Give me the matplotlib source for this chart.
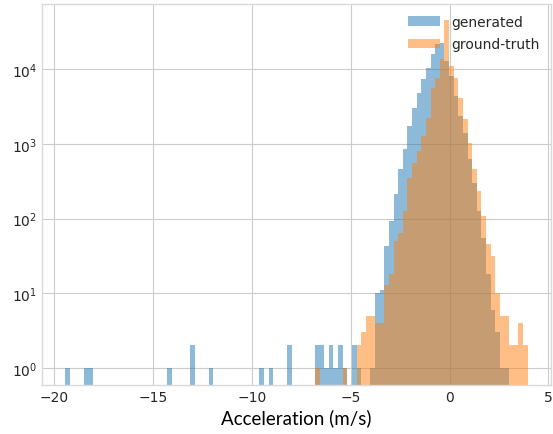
import numpy as np
import matplotlib
matplotlib.use("Agg")
import matplotlib.pyplot as plt

# data range of both samples, 100 shared bins
acc_min, acc_max = -19.46, 3.95
n_bins = 100

# non-empty bins: bin index -> count
gen_bins = [0, 4, 5, 22, 27, 31, 42, 44, 48, 54, 55, 56, 57, 58, 59, 60, 62, 63,
            66, 67, 68, 69, 70, 71, 72, 73, 74, 75, 76, 77, 78, 79, 80, 81,
            82, 83, 84, 85, 86, 87, 88, 89, 90, 91, 92, 93, 94, 95]
gen_counts = [1, 1, 1, 1, 2, 1, 1, 1, 2, 2, 2, 1, 2, 1, 2, 1, 2, 1,
              1, 10, 11, 43, 92, 210, 455, 850, 1740, 3070, 4880, 7350, 10500, 15800, 21700, 22500,
              12900, 8100, 4380, 2360, 1410, 620, 300, 125, 55, 18, 6, 3, 1, 1]

gt_bins = [54, 60, 63, 64, 65, 66, 67, 68, 69, 70, 71, 72, 73, 74, 75, 76, 77, 78,
           79, 80, 81, 82, 83, 84, 85, 86, 87, 88, 89, 90, 91, 92, 93, 94, 95,
           96, 97, 98, 99]
gt_counts = [1, 1, 2, 3, 5, 5, 4, 4, 13, 18, 50, 64, 125, 350, 560, 800, 1280, 2230,
             5650, 7750, 13600, 46000, 11100, 7750, 4170, 2130, 1040, 457, 233, 107, 45, 31, 10, 5, 5,
             2, 2, 4, 2]

edges = np.linspace(acc_min, acc_max, n_bins + 1)
centers = (edges[:-1] + edges[1:]) / 2

gen = np.zeros(n_bins)
gen[gen_bins] = gen_counts
gt = np.zeros(n_bins)
gt[gt_bins] = gt_counts

plt.style.use("seaborn-v0_8-whitegrid")
plt.rcParams["font.family"] = ["DejaVu Sans"]
fig = plt.figure(figsize=(5.53, 4.35), dpi=100)
ax = fig.add_axes([0.076, 0.113, 0.92, 0.8755])

ax.hist(centers, bins=edges, weights=gen, alpha=0.5, label="generated")
ax.hist(centers, bins=edges, weights=gt, alpha=0.5, label="ground-truth")
ax.set_yscale("log")
ax.set_ylim(0.59, 7.5e4)
ax.set_xticks([-20, -15, -10, -5, 0, 5])

for s in ax.spines.values():
    s.set_visible(True)
    s.set_color("0.85")

ax.tick_params(labelsize=10, colors="0.15")
ax.legend(loc="upper right", fontsize=10, frameon=False, borderaxespad=0.4,
          handlelength=2.3, labelspacing=0.6)
ax.set_xlabel("Acceleration (m/s)", fontsize=13.5, family=["Lato", "DejaVu Sans"],
              color="black", labelpad=3)

fig.savefig("out.png", dpi=100)
